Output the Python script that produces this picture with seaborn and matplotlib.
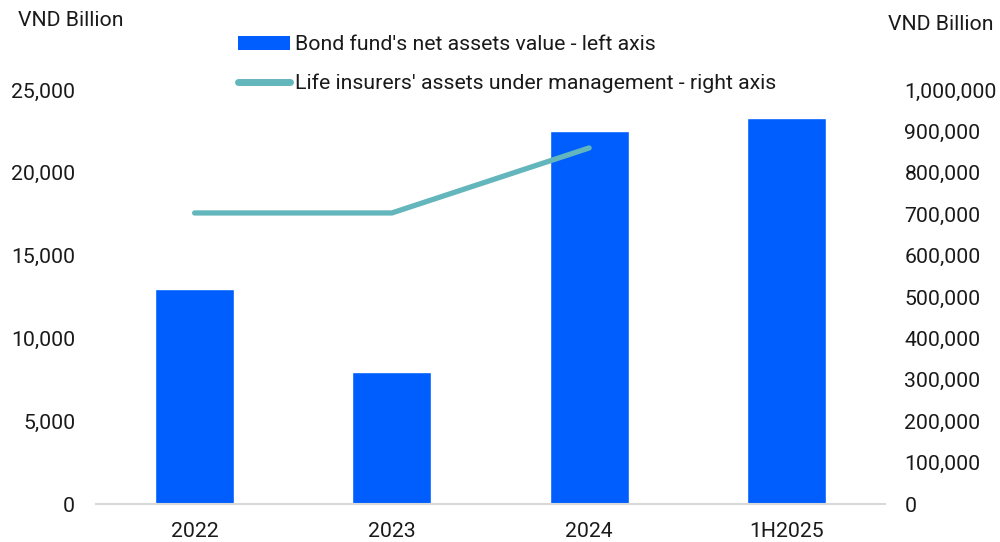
import matplotlib
matplotlib.use("Agg")
import matplotlib.pyplot as plt
from matplotlib.patches import Patch
from matplotlib.lines import Line2D
from matplotlib.ticker import FuncFormatter
import seaborn as sns
import pandas as pd

periods = ["2022", "2023", "2024", "1H2025"]
bond_fund_nav = [13000, 8000, 22500, 23300]
life_insurers_aum = [703000, 703000, 860000, None]

bar_label = "Bond fund's net assets value - left axis"
line_label = "Life insurers' assets under management - right axis"

BAR_COLOR = "#005EFF"
LINE_COLOR = "#62B6BC"
FS = 15.3

sns.set_theme(style="white")
plt.rcParams["font.family"] = ["Roboto", "DejaVu Sans"]
plt.rcParams["text.color"] = "#1a1a1a"

df = pd.DataFrame({"period": periods, "nav": bond_fund_nav, "aum": life_insurers_aum})

fig = plt.figure(figsize=(10, 5.42), dpi=100)
ax = fig.add_axes([0.096, 0.070, 0.789, 0.764])

sns.barplot(data=df, x="period", y="nav", color=BAR_COLOR, width=0.4,
            saturation=1, ax=ax)
ax.set_ylim(0, 25000)
ax.set_xlim(-0.5, 3.5)
ax.set_yticks(range(0, 25001, 5000))
ax.yaxis.set_major_formatter(FuncFormatter(lambda v, p: f"{int(v):,}"))
ax.set_xlabel("")
ax.set_ylabel("")

ax2 = ax.twinx()
line_df = df.dropna(subset=["aum"])
sns.lineplot(data=line_df, x="period", y="aum", color=LINE_COLOR, linewidth=3.8,
             solid_capstyle="round", ax=ax2, legend=False)
ax2.set_ylim(0, 1000000)
ax2.set_yticks(range(0, 1000001, 100000))
ax2.yaxis.set_major_formatter(FuncFormatter(lambda v, p: f"{int(v):,}"))
ax2.set_ylabel("")
ax2.set_xlim(-0.5, 3.5)

for a in (ax, ax2):
    for s in a.spines.values():
        s.set_visible(False)
    a.tick_params(axis="both", length=0, labelsize=FS, colors="#1a1a1a")
    a.grid(False)
ax.spines["bottom"].set_visible(True)
ax.spines["bottom"].set_color("#d9d9d9")
ax.spines["bottom"].set_linewidth(1.5)
ax.tick_params(axis="x", pad=13)
ax.tick_params(axis="y", pad=15)
ax2.tick_params(axis="y", pad=14)

fig.text(0.018, 0.962, "VND Billion", fontsize=FS, ha="left", va="center")
fig.text(0.993, 0.955, "VND Billion", fontsize=FS, ha="right", va="center")

handles = [
    Patch(facecolor=BAR_COLOR, edgecolor="none"),
    Line2D([0], [0], color=LINE_COLOR, linewidth=5, solid_capstyle="round"),
]
fig.legend(handles, [bar_label, line_label], loc="upper left",
           bbox_to_anchor=(0.223, 0.962), frameon=False, fontsize=FS,
           handlelength=2.45, handleheight=0.6, handletextpad=0.24,
           labelspacing=0.88, borderaxespad=0.3)

fig.savefig("out.png", dpi=100, facecolor="white")
